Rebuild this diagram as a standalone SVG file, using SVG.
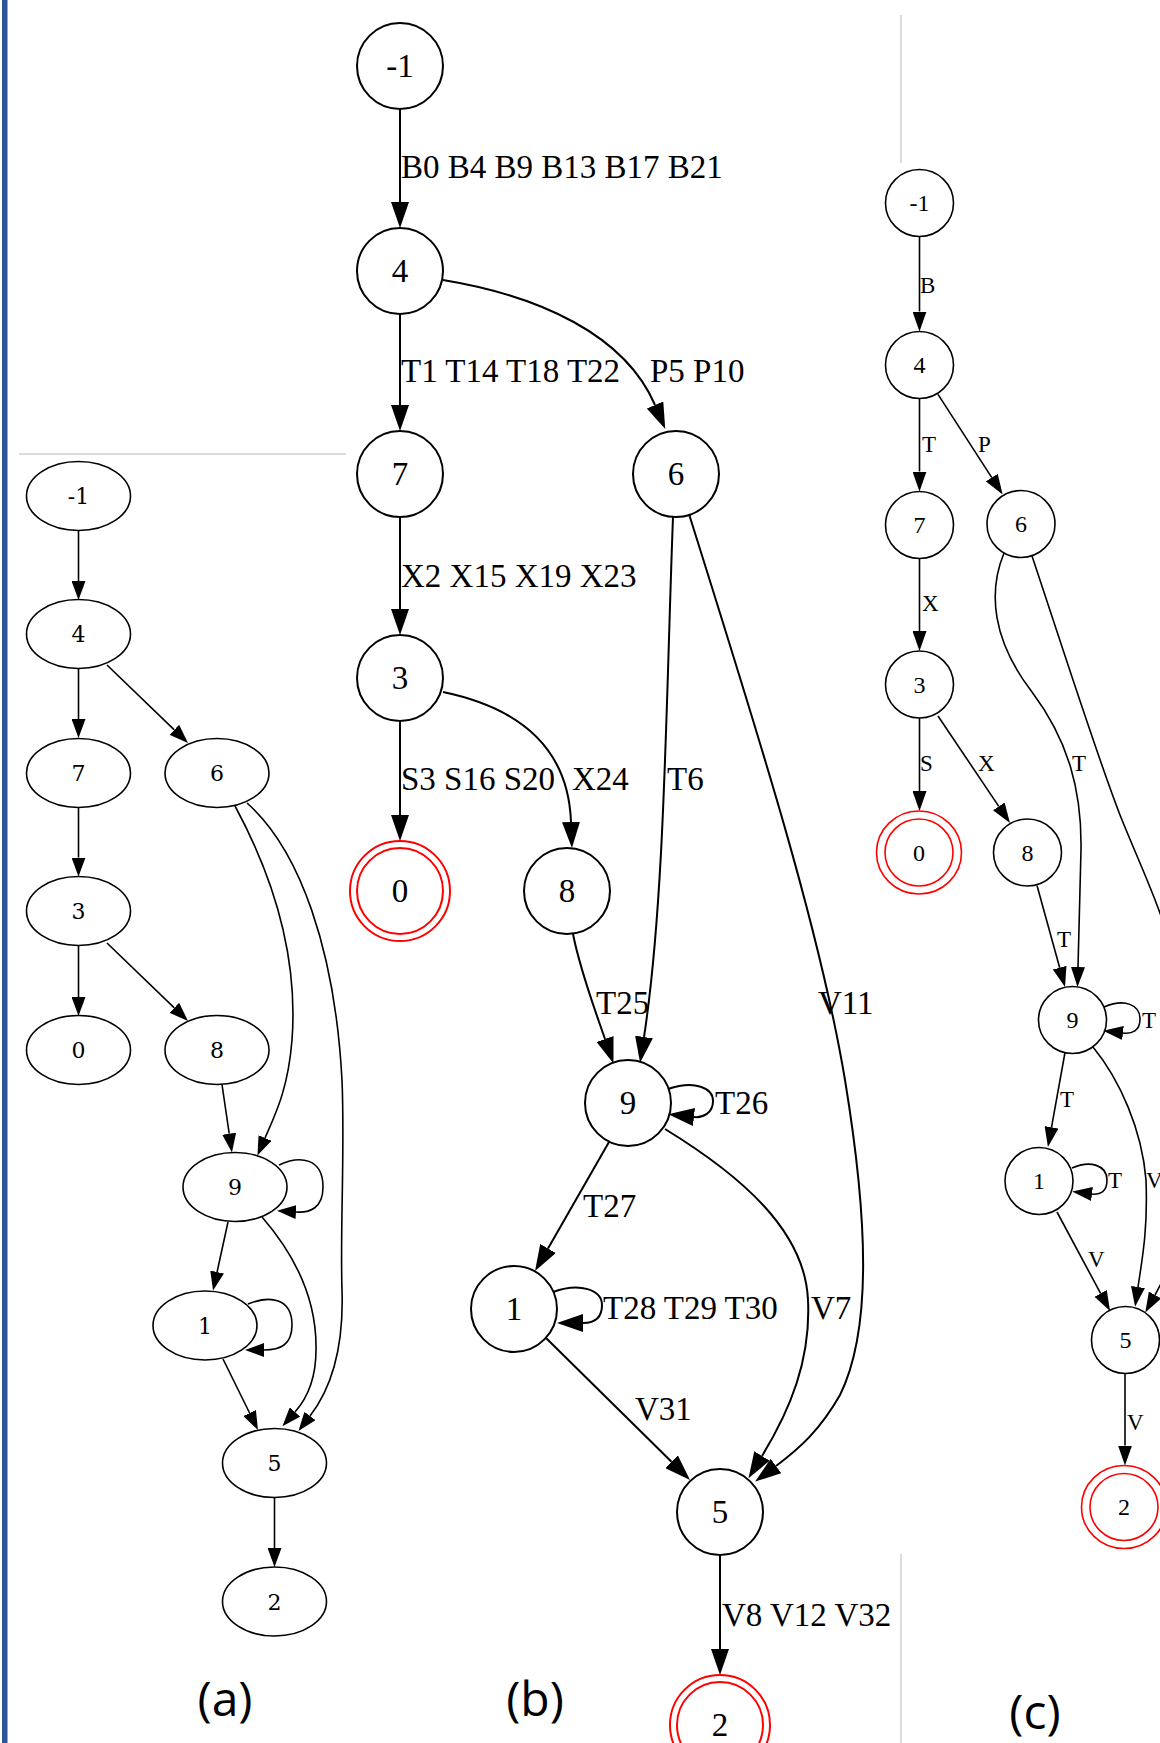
<svg xmlns="http://www.w3.org/2000/svg" width="1160" height="1743" viewBox="0 0 1160 1743">
<style>
.bg{fill:#fff}
.na{fill:none;stroke:#000;stroke-width:1.6}
.nb{fill:none;stroke:#000;stroke-width:2}
.nc{fill:none;stroke:#000;stroke-width:1.6}
.fb{fill:none;stroke:#f00;stroke-width:2}
.fc{fill:none;stroke:#f00;stroke-width:1.6}
.ea{fill:none;stroke:#000;stroke-width:1.6}
.eb{fill:none;stroke:#000;stroke-width:2}
.ec{fill:none;stroke:#000;stroke-width:1.6}
.ta{font-family:"DejaVu Serif",serif;font-size:22px;text-anchor:middle;fill:#000}
.tb{font-family:"Liberation Serif","Times New Roman",serif;font-size:33px;fill:#000}
.tbm{font-family:"Liberation Serif","Times New Roman",serif;font-size:33px;text-anchor:middle;fill:#000}
.tc{font-family:"Liberation Serif","Times New Roman",serif;font-size:23px;fill:#000}
.tcm{font-family:"Liberation Serif","Times New Roman",serif;font-size:24px;text-anchor:middle;fill:#000}
.cap{font-family:"Open Sans","Liberation Sans",sans-serif;font-size:48px;text-anchor:middle;fill:#000}
.sep{stroke:#d0d0d0;stroke-width:1.5}
</style>
<defs>
<marker id="mb" markerUnits="userSpaceOnUse" viewBox="0 0 26 18" markerWidth="26" markerHeight="18" refX="0" refY="9" orient="auto"><path d="M0,0 L26,9 L0,18 z" fill="#000"/></marker>
<marker id="ma" markerUnits="userSpaceOnUse" viewBox="0 0 19 14" markerWidth="19" markerHeight="14" refX="0" refY="7" orient="auto"><path d="M0,0 L19,7 L0,14 z" fill="#000"/></marker>
<marker id="mc" markerUnits="userSpaceOnUse" viewBox="0 0 20 14" markerWidth="20" markerHeight="14" refX="0" refY="7" orient="auto"><path d="M0,0 L20,7 L0,14 z" fill="#000"/></marker>
</defs>
<rect class="bg" x="0" y="0" width="1160" height="1743"/>
<rect x="2" y="0" width="5.5" height="1743" fill="#2E5597"/>
<line class="sep" x1="19" y1="454" x2="346" y2="454"/>
<line class="sep" x1="901" y1="15" x2="901" y2="163"/>
<line class="sep" x1="901" y1="1554" x2="901" y2="1743"/>

<g id="connectors">
<g id="edges-a" class="ea">
<path d="M78.5,531 L78.5,581" marker-end="url(#ma)"/>
<path d="M78.5,668.5 L78.5,719" marker-end="url(#ma)"/>
<path d="M107,665 L174.3,729.8" marker-end="url(#ma)"/>
<path d="M78.5,807 L78.5,857.6" marker-end="url(#ma)"/>
<path d="M78.5,945 L78.5,997" marker-end="url(#ma)"/>
<path d="M107,943 L174.3,1007.8" marker-end="url(#ma)"/>
<path d="M222,1084.5 L229.2,1133.7" marker-end="url(#ma)"/>
<path d="M235,806 C275,880 298,960 292,1040 C288,1090 275,1115 265,1138" marker-end="url(#ma)"/>
<path d="M247,803 C300,850 335,950 342,1080 C345,1150 340,1230 342,1290 C344,1350 330,1390 310,1416" marker-end="url(#ma)"/>
<path d="M279,1165 C300,1155 323,1158 323,1187 C323,1208 310,1213 296,1212" marker-end="url(#ma)"/>
<path d="M228,1222 L217.1,1272" marker-end="url(#ma)"/>
<path d="M262,1217 C295,1255 317,1300 316,1350 C316,1375 310,1395 295,1412" marker-end="url(#ma)"/>
<path d="M248,1304 C270,1295 292,1298 292,1325 C292,1345 280,1350 264,1350" marker-end="url(#ma)"/>
<path d="M223,1359 L249.6,1413" marker-end="url(#ma)"/>
<path d="M274.5,1497.5 L274.5,1548" marker-end="url(#ma)"/>
</g>
<g id="edges-b" class="eb">
<path d="M400,109 L400,202" marker-end="url(#mb)"/>
<path d="M400,314 L400,405" marker-end="url(#mb)"/>
<path d="M443,280 C540,296 625,335 655,405" marker-end="url(#mb)"/>
<path d="M400,517 L400,609" marker-end="url(#mb)"/>
<path d="M400,721 L400,815" marker-end="url(#mb)"/>
<path d="M443,692 C510,706 568,740 571,822" marker-end="url(#mb)"/>
<path d="M673,517 C666,700 665,900 644,1037" marker-end="url(#mb)"/>
<path d="M689,514 C760,740 820,930 845,1080 C868,1220 872,1330 840,1395 C820,1430 800,1448 776,1466" marker-end="url(#mb)"/>
<path d="M573,934 C580,970 595,1010 605,1039" marker-end="url(#mb)"/>
<path d="M668,1089 C695,1080 713,1088 713,1101 C713,1113 703,1118 694,1117" marker-end="url(#mb)"/>
<path d="M609,1142 L548,1248.5" marker-end="url(#mb)"/>
<path d="M553,1292 C580,1282 602,1290 602,1305 C602,1318 595,1323 583,1323" marker-end="url(#mb)"/>
<path d="M546,1338 L671.5,1461.7" marker-end="url(#mb)"/>
<path d="M665,1129 C740,1175 805,1230 808,1300 C811,1360 790,1410 762,1456" marker-end="url(#mb)"/>
<path d="M720,1554 L720,1649" marker-end="url(#mb)"/>
</g>
<g id="edges-c" class="ec">
<path d="M919.5,236.5 L919.5,311.5" marker-end="url(#mc)"/>
<path d="M919.5,398.5 L919.5,471.5" marker-end="url(#mc)"/>
<path d="M938,394.4 L991.8,477.6" marker-end="url(#mc)"/>
<path d="M919.5,558.5 L919.5,631" marker-end="url(#mc)"/>
<path d="M919.5,718 L919.5,791" marker-end="url(#mc)"/>
<path d="M938,716 L998.8,806.4" marker-end="url(#mc)"/>
<path d="M1037,885.5 L1059.7,967.7" marker-end="url(#mc)"/>
<path d="M1004,553 C988,592 992,640 1032,692 C1068,740 1082,790 1081,850 L1078,967" marker-end="url(#mc)"/>
<path d="M1032,556 C1065,655 1095,750 1120,815 C1140,865 1160,905 1175,960 C1190,1020 1185,1220 1170,1262 C1165,1277 1160,1286 1155,1295" marker-end="url(#mc)"/>
<path d="M1104,1007 C1125,998 1140,1005 1140,1019 C1140,1031 1132,1034 1123,1033" marker-end="url(#mc)"/>
<path d="M1065,1052.5 L1051.5,1127.3" marker-end="url(#mc)"/>
<path d="M1093,1047 C1120,1080 1142,1130 1146,1180 C1148,1230 1142,1260 1138,1287" marker-end="url(#mc)"/>
<path d="M1072,1168 C1090,1160 1107,1165 1107,1180 C1107,1192 1100,1195 1092,1194" marker-end="url(#mc)"/>
<path d="M1057,1212 L1100.6,1293.4" marker-end="url(#mc)"/>
<path d="M1125,1373.5 L1125,1445.5" marker-end="url(#mc)"/>
</g>
<g id="edge-labels">
<text class="tb" x="401" y="178">B0 B4 B9 B13 B17 B21</text>
<text class="tb" x="401" y="382">T1 T14 T18 T22</text>
<text class="tb" x="650" y="382">P5 P10</text>
<text class="tb" x="401" y="587">X2 X15 X19 X23</text>
<text class="tb" x="401" y="790">S3 S16 S20</text>
<text class="tb" x="572" y="790">X24</text>
<text class="tb" x="667" y="790">T6</text>
<text class="tb" x="596" y="1014">T25</text>
<text class="tb" x="818" y="1014">V11</text>
<text class="tb" x="715" y="1114">T26</text>
<text class="tb" x="583" y="1217">T27</text>
<text class="tb" x="603" y="1319">T28 T29 T30</text>
<text class="tb" x="811" y="1319">V7</text>
<text class="tb" x="635" y="1420">V31</text>
<text class="tb" x="722" y="1626">V8 V12 V32</text>
<text class="tc" x="920" y="293">B</text>
<text class="tc" x="922" y="452">T</text>
<text class="tc" x="978" y="452">P</text>
<text class="tc" x="922" y="611">X</text>
<text class="tc" x="920" y="771">S</text>
<text class="tc" x="978" y="771">X</text>
<text class="tc" x="1072" y="771">T</text>
<text class="tc" x="1057" y="947">T</text>
<text class="tc" x="1142" y="1028">T</text>
<text class="tc" x="1060" y="1107">T</text>
<text class="tc" x="1108" y="1188">T</text>
<text class="tc" x="1146" y="1188">V</text>
<text class="tc" x="1088" y="1267">V</text>
<text class="tc" x="1127" y="1430">V</text>
</g>
</g>

<g id="a-m1"><ellipse class="na" cx="78.5" cy="496" rx="52" ry="34.5"/><text class="ta" x="78.5" y="504">-1</text></g>
<g id="a-4"><ellipse class="na" cx="78.5" cy="634" rx="52" ry="34.5"/><text class="ta" x="78.5" y="642">4</text></g>
<g id="a-7"><ellipse class="na" cx="78.5" cy="773" rx="52" ry="34.5"/><text class="ta" x="78.5" y="781">7</text></g>
<g id="a-6"><ellipse class="na" cx="217" cy="773" rx="52" ry="34.5"/><text class="ta" x="217" y="781">6</text></g>
<g id="a-3"><ellipse class="na" cx="78.5" cy="911" rx="52" ry="34.5"/><text class="ta" x="78.5" y="919">3</text></g>
<g id="a-0"><ellipse class="na" cx="78.5" cy="1050" rx="52" ry="34.5"/><text class="ta" x="78.5" y="1058">0</text></g>
<g id="a-8"><ellipse class="na" cx="217" cy="1050" rx="52" ry="34.5"/><text class="ta" x="217" y="1058">8</text></g>
<g id="a-9"><ellipse class="na" cx="235" cy="1187" rx="52" ry="34.5"/><text class="ta" x="235" y="1195">9</text></g>
<g id="a-1"><ellipse class="na" cx="205" cy="1325.5" rx="52" ry="34.5"/><text class="ta" x="205" y="1333.5">1</text></g>
<g id="a-5"><ellipse class="na" cx="274.5" cy="1463" rx="52" ry="34.5"/><text class="ta" x="274.5" y="1471">5</text></g>
<g id="a-2"><ellipse class="na" cx="274.5" cy="1601.5" rx="52" ry="34.5"/><text class="ta" x="274.5" y="1609.5">2</text></g>

<g id="b-m1"><circle class="nb" cx="400" cy="66" r="43"/><text class="tbm" x="400" y="77">-1</text></g>
<g id="b-4"><circle class="nb" cx="400" cy="271" r="43"/><text class="tbm" x="400" y="282">4</text></g>
<g id="b-7"><circle class="nb" cx="400" cy="474" r="43"/><text class="tbm" x="400" y="485">7</text></g>
<g id="b-6"><circle class="nb" cx="676" cy="474" r="43"/><text class="tbm" x="676" y="485">6</text></g>
<g id="b-3"><circle class="nb" cx="400" cy="678" r="43"/><text class="tbm" x="400" y="689">3</text></g>
<g id="b-0"><circle class="fb" cx="400" cy="891" r="43"/><circle class="fb" cx="400" cy="891" r="50"/><text class="tbm" x="400" y="902">0</text></g>
<g id="b-8"><circle class="nb" cx="567" cy="891" r="43"/><text class="tbm" x="567" y="902">8</text></g>
<g id="b-9"><circle class="nb" cx="628" cy="1103" r="43"/><text class="tbm" x="628" y="1114">9</text></g>
<g id="b-1"><circle class="nb" cx="514" cy="1309" r="43"/><text class="tbm" x="514" y="1320">1</text></g>
<g id="b-5"><circle class="nb" cx="720" cy="1512" r="43"/><text class="tbm" x="720" y="1523">5</text></g>
<g id="b-2"><circle class="fb" cx="720" cy="1725" r="43"/><circle class="fb" cx="720" cy="1725" r="50"/><text class="tbm" x="720" y="1736">2</text></g>

<g id="c-m1"><ellipse class="nc" cx="919.5" cy="203" rx="34" ry="33.5"/><text class="tcm" x="919.5" y="211">-1</text></g>
<g id="c-4"><ellipse class="nc" cx="919.5" cy="365" rx="34" ry="33.5"/><text class="tcm" x="919.5" y="373">4</text></g>
<g id="c-7"><ellipse class="nc" cx="919.5" cy="525" rx="34" ry="33.5"/><text class="tcm" x="919.5" y="533">7</text></g>
<g id="c-6"><ellipse class="nc" cx="1021" cy="524" rx="34" ry="33.5"/><text class="tcm" x="1021" y="532">6</text></g>
<g id="c-3"><ellipse class="nc" cx="919.5" cy="684.5" rx="34" ry="33.5"/><text class="tcm" x="919.5" y="692.5">3</text></g>
<g id="c-0"><ellipse class="fc" cx="919" cy="852.5" rx="34" ry="33.5"/><ellipse class="fc" cx="919" cy="852.5" rx="42.5" ry="41.5"/><text class="tcm" x="919" y="860.5">0</text></g>
<g id="c-8"><ellipse class="nc" cx="1027.5" cy="852.5" rx="34" ry="33.5"/><text class="tcm" x="1027.5" y="860.5">8</text></g>
<g id="c-9"><ellipse class="nc" cx="1072.5" cy="1020" rx="34" ry="33.5"/><text class="tcm" x="1072.5" y="1028">9</text></g>
<g id="c-1"><ellipse class="nc" cx="1039" cy="1181" rx="34" ry="33.5"/><text class="tcm" x="1039" y="1189">1</text></g>
<g id="c-5"><ellipse class="nc" cx="1125.5" cy="1340" rx="34" ry="33.5"/><text class="tcm" x="1125.5" y="1348">5</text></g>
<g id="c-2"><ellipse class="fc" cx="1124" cy="1507" rx="34" ry="33.5"/><ellipse class="fc" cx="1124" cy="1507" rx="42.5" ry="41.5"/><text class="tcm" x="1124" y="1515">2</text></g>

<g id="captions">
<text class="cap" x="225" y="1716">(a)</text>
<text class="cap" x="535" y="1716">(b)</text>
<text class="cap" x="1035" y="1729">(c)</text>
</g>
</svg>
